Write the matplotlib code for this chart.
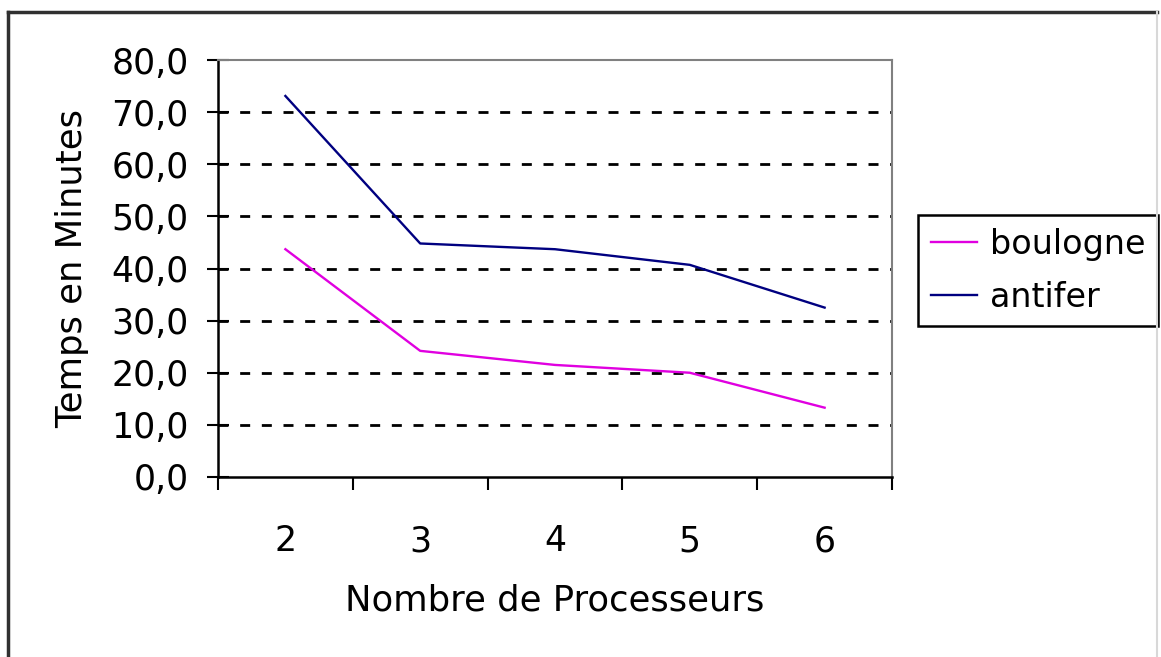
import matplotlib
matplotlib.use("Agg")
import matplotlib.pyplot as plt
from matplotlib.lines import Line2D
from matplotlib.ticker import FixedLocator, FuncFormatter

# temps de calcul selon le nombre de processeurs
processeurs = [2, 3, 4, 5, 6]
boulogne = [43.7, 24.2, 21.5, 20.0, 13.3]
antifer = [73.1, 44.8, 43.7, 40.7, 32.5]
graduations_y = [0, 10, 20, 30, 40, 50, 60, 70, 80]

W, H = 1161, 657
fig = plt.figure(figsize=(W / 100, H / 100), dpi=100)
fig.patch.set_facecolor("white")
ax = fig.add_axes([218 / W, 1 - 477 / H, (892 - 218) / W, (477 - 60) / H])

ax.plot(processeurs, boulogne, color="#e000e0", lw=1.7, label="boulogne", zorder=3)
ax.plot(processeurs, antifer, color="#000080", lw=1.7, label="antifer", zorder=3)

# lignes de quadrillage en tirets
for v in graduations_y[1:-1]:
    ax.axhline(v, color="black", lw=2, dashes=(3.6, 4.2), zorder=1)

ax.set_xlim(1.5, 6.5)
ax.set_ylim(0, 80)
ax.set_yticks(graduations_y)
ax.yaxis.set_major_formatter(FuncFormatter(lambda v, p: f"{v:.1f}".replace(".", ",")))
ax.set_xticks(processeurs)
ax.xaxis.set_minor_locator(FixedLocator([1.5, 2.5, 3.5, 4.5, 5.5, 6.5]))

ax.tick_params(axis="x", which="major", length=0, pad=34, labelsize=25)
ax.tick_params(axis="x", which="minor", direction="out", length=9, width=1.5)
ax.tick_params(axis="y", direction="inout", length=16, width=1.5, pad=13, labelsize=25)

for s in ("left", "bottom"):
    ax.spines[s].set_linewidth(1.8)
    ax.spines[s].set_color("black")
for s in ("top", "right"):
    ax.spines[s].set_linewidth(1.5)
    ax.spines[s].set_color("#808080")

ax.set_xlabel("Nombre de Processeurs", fontsize=25.5, labelpad=18)
ax.set_ylabel("Temps en Minutes", fontsize=25.5, labelpad=16)

leg = ax.legend(loc="upper left", bbox_to_anchor=(918 / W, 1 - 215 / H),
                bbox_transform=fig.transFigure, borderaxespad=0,
                fontsize=24, handlelength=1.4, handletextpad=0.38,
                borderpad=0.38, labelspacing=0.6, fancybox=False,
                framealpha=1, edgecolor="black")
leg.get_frame().set_linewidth(1.8)

# cadre extérieur du graphique
fig.add_artist(Line2D([8 / W, 1157 / W], [1 - 12 / H, 1 - 12 / H],
                      transform=fig.transFigure, color="#303030", lw=2.5))
fig.add_artist(Line2D([8 / W, 8 / W], [1 - 12 / H, 0],
                      transform=fig.transFigure, color="#303030", lw=2.5))
fig.add_artist(Line2D([1157 / W, 1157 / W], [1 - 12 / H, 0],
                      transform=fig.transFigure, color="#d8d8d8", lw=1.5))

fig.savefig("out.png", dpi=100, facecolor="white")
